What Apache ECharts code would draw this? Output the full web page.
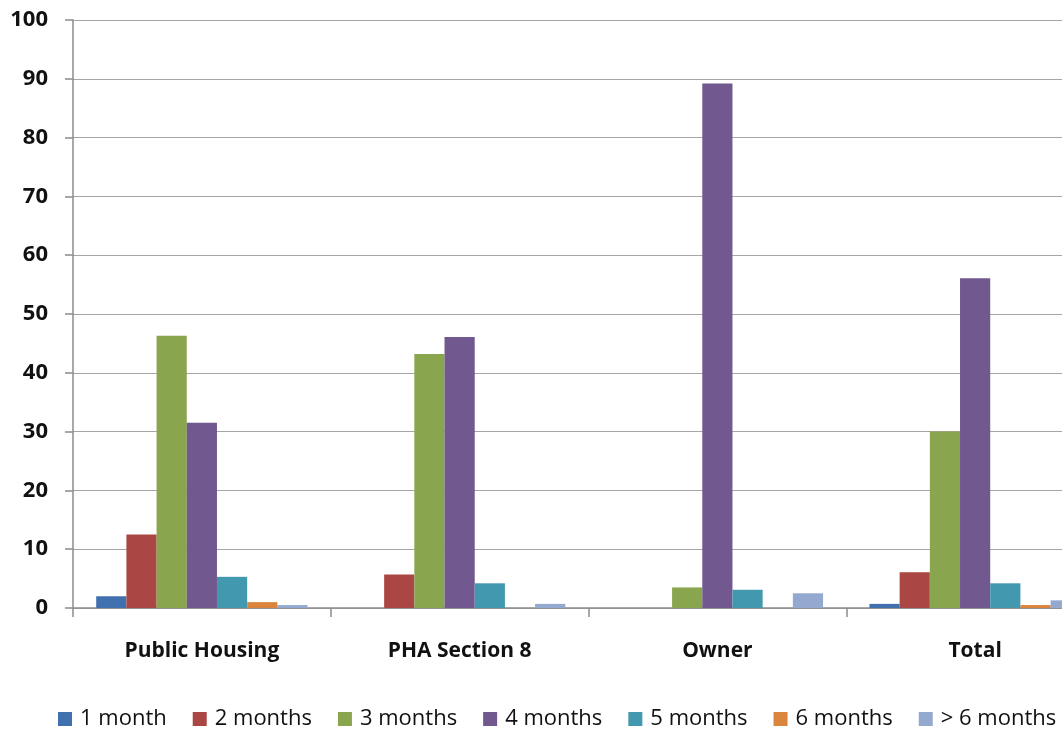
<!DOCTYPE html>
<html>
<head>
<meta charset="utf-8">
<script src="https://cdn.jsdelivr.net/npm/echarts@6/dist/echarts.min.js"></script>
<style>
  html, body { margin: 0; padding: 0; background: #ffffff; }
  #chart { width: 1062px; height: 732px; }
</style>
</head>
<body>
<div id="chart"></div>
<script>
// Categories along the x axis
const categories = ['Public Housing', 'PHA Section 8', 'Owner', 'Total'];

// Percentages per duration group
const oneMonth    = [2.0, 0,    0,    0.7];
const twoMonths   = [12.5, 5.7, 0,    6.1];
const threeMonths = [46.3, 43.2, 3.5, 30.0];
const fourMonths  = [31.5, 46.1, 89.2, 56.1];
const fiveMonths  = [5.3, 4.2,  3.1,  4.2];
const sixMonths   = [1.0, 0,    0,    0.5];
const overSix     = [0.5, 0.7,  2.5,  1.3];

const seriesNames = ['1 month', '2 months', '3 months', '4 months', '5 months', '6 months', '> 6 months'];
const seriesValues = [oneMonth, twoMonths, threeMonths, fourMonths, fiveMonths, sixMonths, overSix];
const seriesColors = ['#4070AE', '#AA4643', '#89A54E', '#71588F', '#4198AF', '#DB843D', '#93A9CF'];

const chart = echarts.init(document.getElementById('chart'), null, { renderer: 'canvas' });

const labelFont = "'Open Sans', 'Liberation Sans', sans-serif";

chart.setOption({
  animation: false,
  backgroundColor: '#ffffff',
  color: seriesColors,
  // plot area runs past the right edge of the canvas, so the last group is cut off
  grid: { left: 73, top: 20, width: 1031, height: 588, outerBoundsMode: 'none', containLabel: false },
  legend: {
    left: 58,
    top: 708,
    width: 1040,
    padding: 0,
    itemWidth: 14,
    itemHeight: 14,
    itemGap: 26,
    icon: 'rect',
    textStyle: { fontFamily: labelFont, fontSize: 22, color: '#111111', padding: [0, 0, 0, 3] },
    data: seriesNames
  },
  xAxis: {
    type: 'category',
    data: categories,
    axisLine: { lineStyle: { color: '#8c8c8c', width: 1.5 } },
    axisTick: { show: true, length: 9, lineStyle: { color: '#8c8c8c', width: 1.5 } },
    axisLabel: { margin: 33, fontFamily: labelFont, fontWeight: 'bold', fontSize: 21, color: '#111111' },
    splitLine: { show: false }
  },
  yAxis: {
    type: 'value',
    min: 0,
    max: 100,
    interval: 10,
    axisLine: { show: true, lineStyle: { color: '#8c8c8c', width: 1.5 } },
    axisTick: { show: true, length: 8, lineStyle: { color: '#8c8c8c', width: 1.5 } },
    axisLabel: { margin: 25, fontFamily: labelFont, fontWeight: 'bold', fontSize: 22, color: '#111111' },
    splitLine: { show: true, lineStyle: { color: '#a6a6a6', width: 1 } }
  },
  series: seriesNames.map((name, i) => ({
    name: name,
    type: 'bar',
    data: seriesValues[i],
    barGap: '0%',
    barCategoryGap: '18%',
    itemStyle: { color: seriesColors[i] }
  }))
});
</script>
</body>
</html>
